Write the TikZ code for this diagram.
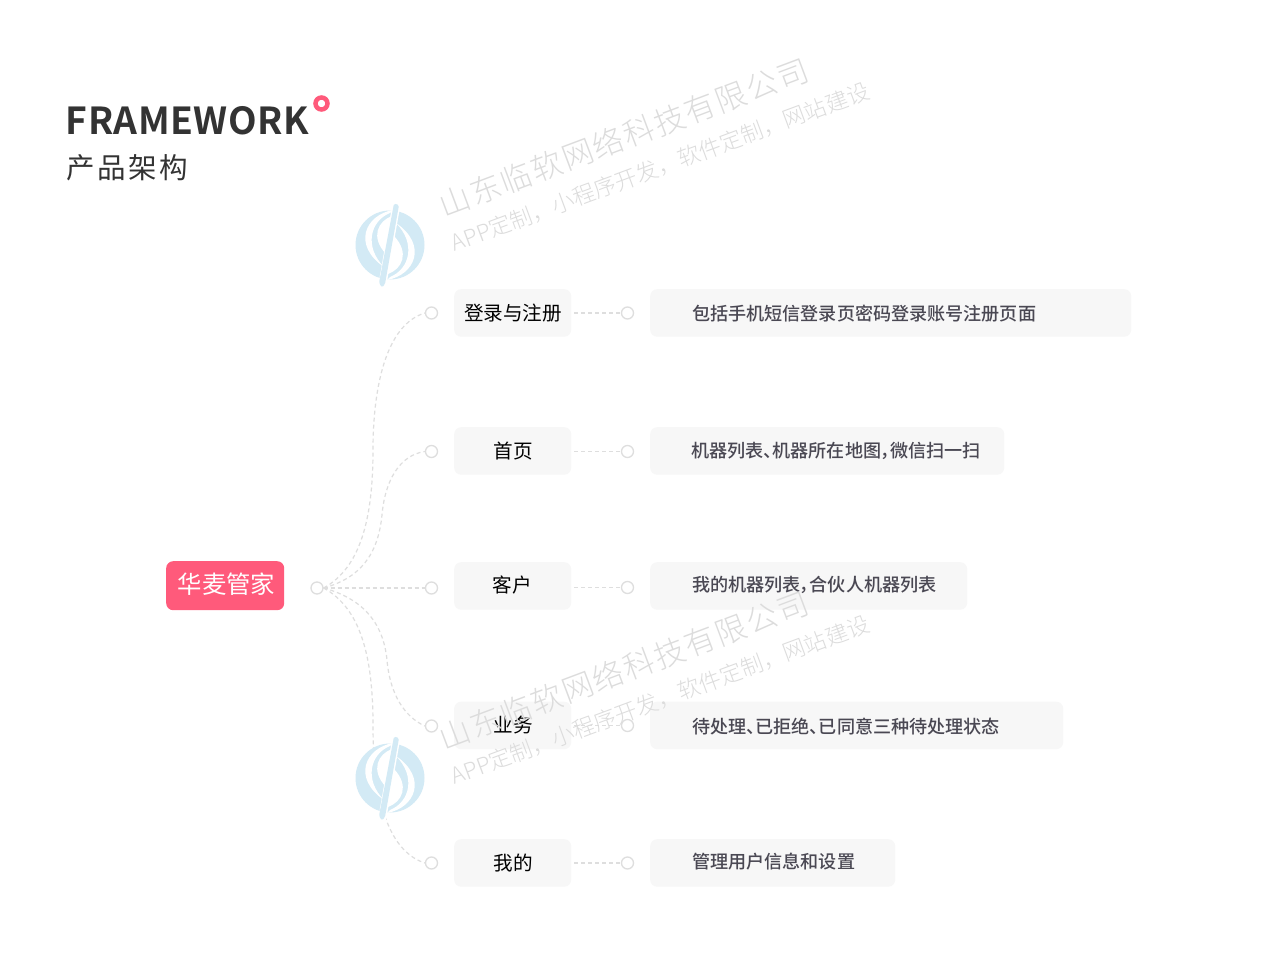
\documentclass[tikz,border=0pt]{standalone}
\usepackage{fontspec}
\setmainfont{Noto Sans CJK SC}
\newfontfamily\cjkbold[LetterSpace=1.6]{Noto Sans CJK SC Bold}
\newfontfamily\cjkmed[RawFeature=+palt]{Noto Sans CJK SC Medium}
\newfontfamily\cjklight{Noto Sans CJK SC Light}
\newfontfamily\cjkreg{Noto Sans CJK SC}
\definecolor{pinkc}{HTML}{FF5A7B}
\definecolor{boxc}{HTML}{F7F7F7}
\definecolor{dotc}{HTML}{DEDEDE}
\definecolor{titlec}{HTML}{333333}
\definecolor{descc}{HTML}{4A4853}
\definecolor{markc}{HTML}{DCDCDC}
\definecolor{logoc}{HTML}{D3EAF5}
\tikzset{
  x=1pt,y=-1pt,
  boxnode/.style={fill=boxc,rounded corners=7pt,anchor=north west,inner sep=0pt},
  ring/.style={circle,draw=dotc,line width=1.3pt,fill=white,minimum size=12pt,inner sep=0pt},
  conn/.style={draw=dotc,line width=1.2pt,dash pattern=on 4pt off 3pt},
  lab/.style={font=\cjkreg\fontsize{19.6}{19.6}\selectfont,text=black,inner sep=0pt},
  desc/.style={font=\cjkmed\fontsize{18.1}{18.1}\selectfont,text=descc,inner sep=0pt,anchor=west},
  wmA/.style={font=\cjklight\fontsize{31}{31}\selectfont\addfontfeature{LetterSpace=5.8},text=markc,rotate=20.6,inner sep=0pt},
  wmB/.style={font=\cjklight\fontsize{22.4}{22.4}\selectfont,text=markc,rotate=20.3,inner sep=0pt},
}
\newcommand{\logomark}{%
  \fill[logoc] (0,0) circle (34.5);
  \begin{scope}
    \clip (0,0) circle (34.6);
    \fill[white] (3,-35) .. controls (-25,-30) and (-38,0) .. (-6,22)
       .. controls (-26,2) and (-20,-24) .. (0,-32) -- cycle;
    \fill[white] (2,-29) .. controls (-12,-24) and (-20,-8) .. (-4,9) -- (4,-25) -- cycle;
    \fill[white] (-3,35) .. controls (25,30) and (38,0) .. (6,-22)
       .. controls (26,-2) and (20,24) .. (0,32) -- cycle;
    \fill[white] (-2,29) .. controls (12,24) and (20,8) .. (4,-9) -- (-4,25) -- cycle;
  \end{scope}
  \draw[white,line width=8pt] (6.5,-41) -- (-8,42);
  \fill[logoc,rounded corners=1.5pt] (4,-41.5) -- (9,-40) -- (-5,39) -- (-8,42.5) -- (-11,38) -- cycle;
}
\begin{document}
\begin{tikzpicture}
\useasboundingbox (0,0) rectangle (1280,969);
\fill[white] (0,0) rectangle (1280,969);

% Title
\node[font=\cjkbold\fontsize{37.2}{37.2}\selectfont,text=titlec,anchor=west,inner sep=0pt] (title) at (65.5,121) {FRAMEWORK};
\node[font=\cjkreg\fontsize{28.5}{28.5}\selectfont\addfontfeature{LetterSpace=9.5},text=titlec,anchor=west,inner sep=0pt] (subtitle) at (66,168) {产品架构};
\node[circle,draw=pinkc,line width=4.5pt,minimum size=12pt,inner sep=0pt] (titlering) at (321.5,103.5) {};

% Boxes
\node[boxnode,minimum width=117pt,minimum height=47.5pt] (b1) at (454,289) {};
\node[boxnode,minimum width=117pt,minimum height=47.5pt] (b2) at (454,427) {};
\node[boxnode,minimum width=117pt,minimum height=47.5pt] (b3) at (454,562) {};
\node[boxnode,minimum width=117pt,minimum height=47.5pt] (b4) at (454,701.5) {};
\node[boxnode,minimum width=117pt,minimum height=47.5pt] (b5) at (454,839) {};
\node[boxnode,minimum width=481pt,minimum height=47.5pt] (d1) at (650,289) {};
\node[boxnode,minimum width=354pt,minimum height=47.5pt] (d2) at (650,427) {};
\node[boxnode,minimum width=317pt,minimum height=47.5pt] (d3) at (650,562) {};
\node[boxnode,minimum width=413pt,minimum height=47.5pt] (d4) at (650,701.5) {};
\node[boxnode,minimum width=245pt,minimum height=47.5pt] (d5) at (650,839) {};
\node[fill=pinkc,rounded corners=7pt,anchor=north west,inner sep=0pt,minimum width=118pt,minimum height=49pt] (root) at (166,561) {};

% Rings
\node[ring] (c0) at (317,588) {};
\node[ring] (t1) at (431.5,313) {};
\node[ring] (t2) at (431.5,451.5) {};
\node[ring] (t3) at (431.5,588) {};
\node[ring] (t4) at (431.5,726) {};
\node[ring] (t5) at (431.5,863) {};
\node[ring] (r1) at (627.5,313) {};
\node[ring] (r2) at (627.5,451.5) {};
\node[ring] (r3) at (627.5,587.5) {};
\node[ring] (r4) at (627.5,725.5) {};
\node[ring] (r5) at (627.5,863) {};

% Connectors
\draw[conn] (c0.east) .. controls (360,568) and (373,520) .. (373,450)
   .. controls (373,390) and (385,325) .. (t1.west);
\draw[conn] (c0.east) .. controls (360,578) and (378,555) .. (382,515)
   .. controls (385,480) and (400,455) .. (t2.west);
\draw[conn] (c0.east) -- (t3.west);
\draw[conn] (c0.east) .. controls (360,598) and (383,620) .. (387,660)
   .. controls (390,695) and (405,717) .. (t4.west);
\draw[conn] (c0.east) .. controls (360,608) and (373,655) .. (373,725)
   .. controls (373,790) and (385,850) .. (t5.west);
\coordinate (s1) at (574,313);
\coordinate (s2) at (574,451.5);
\coordinate (s3) at (574,587.5);
\coordinate (s4) at (574,725.5);
\coordinate (s5) at (574,863);
\draw[conn] (s1) -- (r1.west);
\draw[conn] (s2) -- (r2.west);
\draw[conn] (s3) -- (r3.west);
\draw[conn] (s4) -- (r4.west);
\draw[conn] (s5) -- (r5.west);

% Labels
\node[font=\cjkreg\fontsize{24.4}{24.4}\selectfont,text=white,inner sep=0pt] (rootlabel) at (226.5,584.5) {华麦管家};
\node[lab] (l1) at (513,313) {登录与注册};
\node[lab] (l2) at (513,451) {首页};
\node[lab] (l3) at (512,585) {客户};
\node[lab] (l4) at (513,725) {业务};
\node[lab] (l5) at (513,863) {我的};
\node[desc] (e1) at (692,313.5) {包括手机短信登录页密码登录账号注册页面};
\node[desc] (e2) at (691,450.5) {机器列表、机器所在地图，微信扫一扫};
\node[desc] (e3) at (692,584.5) {我的机器列表，合伙人机器列表};
\node[desc] (e4) at (692,726.5) {待处理、已拒绝、已同意三种待处理状态};
\node[desc] (e5) at (692,862) {管理用户信息和设置};

% Watermarks
\begin{scope}[shift={(390,245)}]\logomark\end{scope}
\begin{scope}[shift={(390,778)}]\logomark\end{scope}
\node[wmA] (w1) at (623.5,137) {山东临软网络科技有限公司};
\node[wmB] (w2) at (660,167) {APP定制，小程序开发，软件定制，网站建设};
\node[wmA] (w3) at (623.5,670) {山东临软网络科技有限公司};
\node[wmB] (w4) at (660,700) {APP定制，小程序开发，软件定制，网站建设};
\end{tikzpicture}
\end{document}
